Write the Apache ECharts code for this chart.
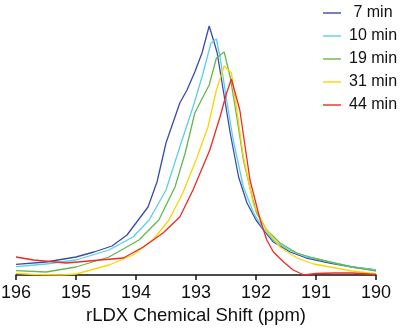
<!DOCTYPE html>
<html>
<head>
<meta charset="utf-8">
<script src="https://cdn.jsdelivr.net/npm/echarts@6/dist/echarts.min.js"></script>
<style>
  html, body { margin: 0; padding: 0; background: #fff; }
  #chart { width: 400px; height: 328px; }
</style>
</head>
<body>
<div id="chart"></div>
<script>
// series names (leading space keeps the digits aligned like the original)
const seriesNames = [' 7 min', '10 min', '19 min', '31 min', '44 min']
const seriesColors = ['#3a4ca8', '#5ccfe6', '#66b84c', '#ffd400', '#ee2a24']

// chemical shift (ppm) and intensity (arb. units)
const ppm7 = [196, 195.5, 195, 194.7, 194.4, 194.15, 194, 193.8, 193.65, 193.5, 193.27, 193.15, 193.02, 192.9, 192.78, 192.65, 192.56, 192.43, 192.29, 192.15, 192.0, 191.9, 191.71, 191.43, 191.16, 190.77, 190.4, 190]
const int7 = [10.7, 13, 18, 23, 29, 40, 52, 68, 93, 132, 172, 185, 203, 222, 249, 223, 190, 142, 98, 72, 55, 47, 33, 23, 17, 12, 8, 5]

const ppm10 = [196, 195.5, 195, 194.45, 194.05, 193.78, 193.5, 193.27, 193.05, 192.9, 192.75, 192.66, 192.6, 192.49, 192.38, 192.21, 192.04, 191.9, 191.7, 191.45, 191.15, 190.77, 190.4, 190]
const int10 = [8.3, 11, 15, 25, 38, 55, 85, 128, 168, 198, 232, 236, 218, 175, 135, 88, 62, 48, 34, 25, 18, 13, 8, 5]

const ppm19 = [196, 195.5, 195, 194.45, 193.95, 193.62, 193.35, 193.18, 193.02, 192.91, 192.78, 192.66, 192.53, 192.43, 192.32, 192.21, 192.05, 191.99, 191.82, 191.6, 191.32, 191.04, 190.77, 190.4, 190]
const int19 = [4.3, 3, 8, 18, 35, 55, 88, 122, 162, 175, 190, 217, 223, 198, 158, 115, 75, 62, 45, 32, 22, 17, 13, 8, 4]

const ppm31 = [196, 195.7, 195.25, 195, 194.45, 194.05, 193.72, 193.45, 193.22, 193.0, 192.8, 192.66, 192.53, 192.41, 192.32, 192.21, 192.04, 191.82, 191.6, 191.32, 191.04, 190.77, 190.4, 190]
const int31 = [1.7, 0.5, 0, 1, 10, 20, 35, 55, 82, 115, 148, 185, 209, 202, 165, 118, 70, 45, 28, 17, 11, 8, 4, 1]

const ppm44 = [196, 195.71, 195.16, 194.6, 194.21, 193.88, 193.55, 193.27, 193.05, 192.77, 192.6, 192.49, 192.41, 192.27, 192.1, 191.93, 191.82, 191.71, 191.54, 191.38, 191.2, 191.0, 190.7, 190.4, 190]
const int44 = [18, 15, 12, 15, 17, 28, 42, 58, 85, 125, 158, 182, 196, 165, 95, 55, 35, 23, 13, 5, 0, 1.5, 2, 2, 0.5]

const xTicks = [196, 195, 194, 193, 192, 191, 190]

const ppmLists = [ppm7, ppm10, ppm19, ppm31, ppm44]
const intLists = [int7, int10, int19, int31, int44]

const chart = echarts.init(document.getElementById('chart'))

const series = seriesNames.map((name, i) => ({
  name,
  type: 'line',
  symbol: 'none',
  smooth: false,
  lineStyle: { color: seriesColors[i], width: 1.3 },
  itemStyle: { color: seriesColors[i] },
  data: ppmLists[i].map((x, k) => [x, intLists[i][k]])
}))

chart.setOption({
  animation: false,
  textStyle: { fontFamily: 'Liberation Sans, Arial, sans-serif' },
  legend: {
    orient: 'vertical',
    left: 318,
    top: 0,
    icon: 'rect',
    itemWidth: 18,
    itemHeight: 1.4,
    itemGap: 7,
    data: seriesNames,
    textStyle: {
      fontSize: 16,
      color: '#111',
      padding: [0, 0, 0, 3]
    }
  },
  grid: {
    left: 16,
    right: 24,
    top: 0,
    bottom: 53,
    outerBoundsMode: 'none',
    containLabel: false
  },
  xAxis: {
    type: 'value',
    inverse: true,
    min: 190,
    max: 196,
    interval: 1,
    name: 'rLDX Chemical Shift (ppm)',
    nameLocation: 'middle',
    nameGap: 28,
    nameTextStyle: { fontSize: 18.5, color: '#111' },
    axisLine: { lineStyle: { color: '#111', width: 1.5 } },
    axisTick: { length: 5, lineStyle: { color: '#111', width: 1.5 } },
    axisLabel: {
      fontSize: 18,
      color: '#111',
      margin: 9,
      formatter: v => (xTicks.includes(v) ? String(v) : '')
    },
    splitLine: { show: false }
  },
  yAxis: {
    type: 'value',
    min: 0,
    max: 275,
    show: false
  },
  series
})
</script>
</body>
</html>
